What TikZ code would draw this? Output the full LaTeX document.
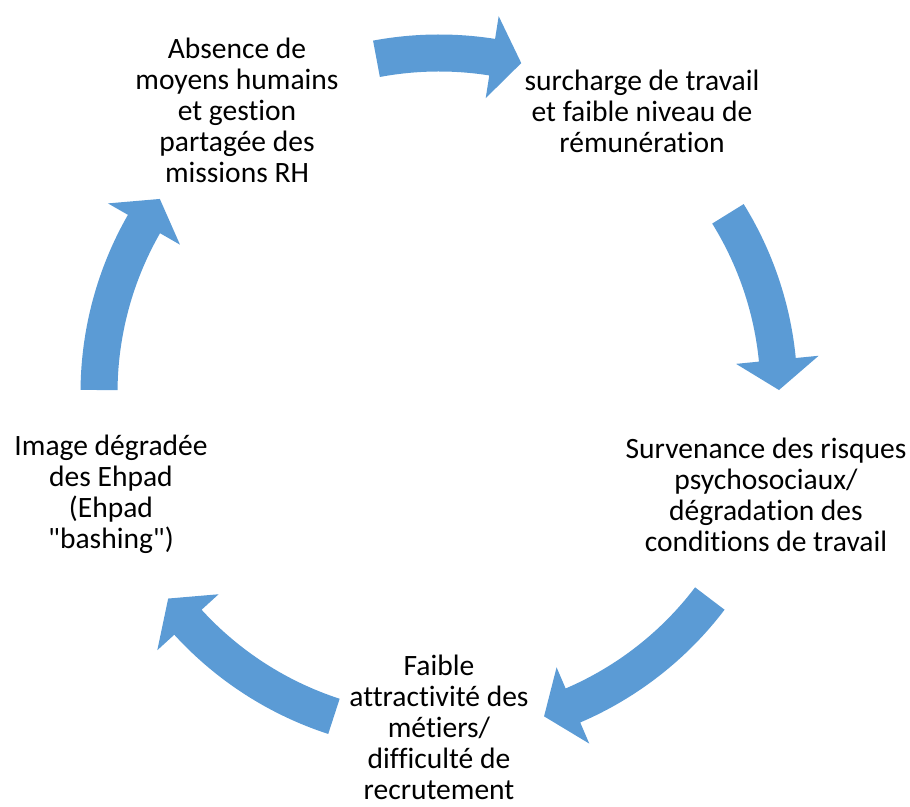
\documentclass[tikz,border=0pt]{standalone}
\usepackage{fontspec}
\setmainfont{Carlito}[Ligatures={NoCommon,TeXOff}]
\definecolor{cycleblue}{HTML}{5B9BD5}
% block arrow on the circle: tail angle, head base angle, tip angle
\newcommand{\cyclearrow}[3]{%
  \fill[cycleblue] (#1:358.5) arc[start angle=#1, end angle=#2, radius=358.5]
    -- (#2:381.5) -- (#3:340) -- (#2:298.5) -- (#2:321.5)
    arc[start angle=#2, end angle=#1, radius=321.5] -- cycle;}

\begin{document}
\begin{tikzpicture}[x=0.025cm, y=0.025cm,
    label/.style={align=center, inner sep=0pt, font=\fontsize{21}{22}\selectfont}]
  \useasboundingbox (0,0) rectangle (910,807);
  \node[label] (absence) at (237,697) {Absence de\\moyens humains\\et gestion\\partagée des\\missions RH};
  \node[label] (surcharge) at (642,696) {surcharge de travail\\et faible niveau de\\rémunération};
  \node[label] (risques) at (766,312) {Survenance des risques\\psychosociaux/\\dégradation des\\conditions de travail};
  \node[label] (attract) at (439,80) {Faible\\attractivité des\\métiers/\\difficulté de\\recrutement};
  \node[label] (image) at (111,313) {Image dégradée\\des Ehpad\\(Ehpad\\"bashing")};
  \begin{scope}[shift={(439,414)}]
    \cyclearrow{100.6}{81}{76}
    \cyclearrow{31.8}{5.6}{0.5}
    \cyclearrow{-37.2}{-66.8}{-72}
    \cyclearrow{-108}{-137.6}{-142.8}
    \cyclearrow{179.5}{150.2}{145.2}
  \end{scope}
\end{tikzpicture}
\end{document}
